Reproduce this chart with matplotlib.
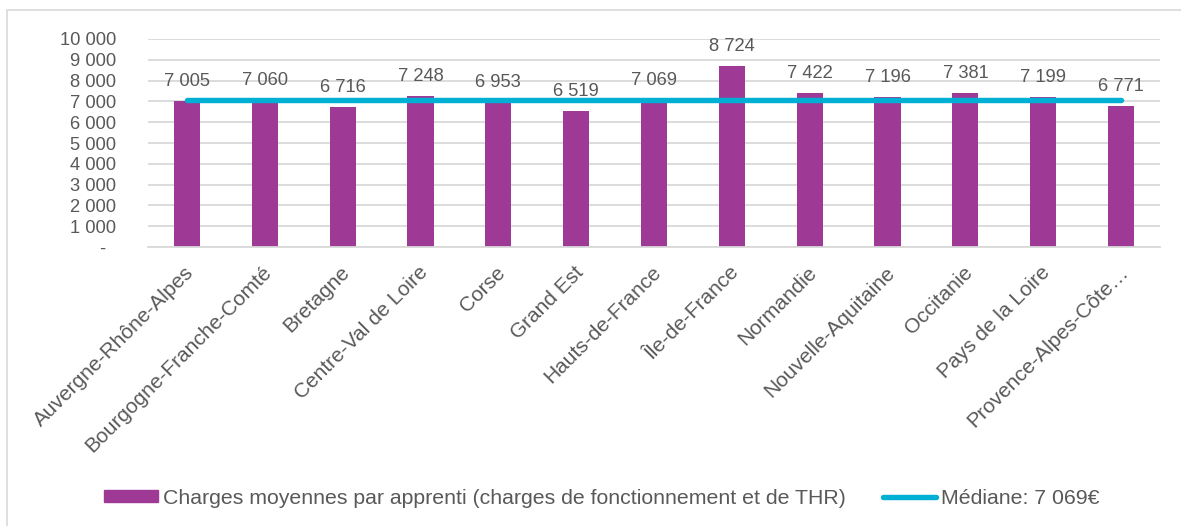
import matplotlib.pyplot as plt
import matplotlib.ticker as ticker
import matplotlib.transforms as mtransforms
from matplotlib.patches import Rectangle
from matplotlib.lines import Line2D

regions = ["Auvergne-Rhône-Alpes", "Bourgogne-Franche-Comté", "Bretagne",
           "Centre-Val de Loire", "Corse", "Grand Est", "Hauts-de-France",
           "Île-de-France", "Normandie", "Nouvelle-Aquitaine", "Occitanie",
           "Pays de la Loire", "Provence-Alpes-Côte…"]
charges = [7005, 7060, 6716, 7248, 6953, 6519, 7069, 8724, 7422, 7196, 7381, 7199, 6771]
median = 7069

BAR = "#9E3A95"
LINE = "#00B0D4"
TXT = "#595959"
GRID = "#D9D9D9"

plt.rcParams['font.family'] = ['Liberation Sans', 'DejaVu Sans']


def fmt(v, pos=None):
    if v == 0:
        return "-\u2007"
    return f"{int(v):,}".replace(",", " ")


fig = plt.figure(figsize=(11.81, 5.26), dpi=100)
ax = fig.add_axes([148 / 1181, 1 - 247 / 526, (1160 - 148) / 1181, (247 - 39) / 526])

# outer chart frame
fig.patches.append(Rectangle((7 / 1181, -0.01), 1.0, 1 - 10 / 526 + 0.01,
                             transform=fig.transFigure, fill=False,
                             edgecolor=GRID, linewidth=1.2))

x = list(range(len(regions)))
ax.bar(x, charges, width=0.335, color=BAR, zorder=2)
ax.plot(x, [median] * len(x), color=LINE, linewidth=3.9,
        solid_capstyle='round', zorder=3)

for xi, v in zip(x, charges):
    ax.annotate(fmt(v), (xi, v), xytext=(0, 10.8), textcoords='offset points',
                ha='center', va='baseline', fontsize=13.2, color=TXT)

ax.set_xlim(-0.5, len(regions) - 0.5)
ax.set_ylim(0, 10000)
ax.yaxis.set_major_locator(ticker.MultipleLocator(1000))
ax.yaxis.set_major_formatter(ticker.FuncFormatter(fmt))
ax.grid(axis='y', color=GRID, linewidth=1.3, zorder=0)
ax.set_axisbelow(True)
for s in ['top', 'right', 'left']:
    ax.spines[s].set_visible(False)
ax.spines['bottom'].set_color(GRID)
ax.spines['bottom'].set_linewidth(1.3)
ax.tick_params(axis='both', length=0, colors=TXT)
ax.tick_params(axis='y', pad=23, labelsize=13.2)
ax.set_xticks(x)
ax.set_xticklabels(regions, rotation=45, ha='right', va='baseline',
                   rotation_mode='anchor', fontsize=15)
ax.tick_params(axis='x', pad=19)
shift = mtransforms.ScaledTranslation(8 / 100, 0, fig.dpi_scale_trans)
for lab in ax.get_xticklabels():
    lab.set_transform(lab.get_transform() + shift)

handles = [Rectangle((0, 0), 1, 1, color=BAR),
           Line2D([0], [0], color=LINE, linewidth=3.9, solid_capstyle='round')]
labels = ["Charges moyennes par apprenti (charges de fonctionnement et de THR)",
          "Médiane: 7 069€"]
leg = fig.legend(handles, labels, loc='center', bbox_to_anchor=(602 / 1181, 1 - 498 / 526),
                 ncol=2, frameon=False, fontsize=15.3, handlelength=2.5,
                 handletextpad=0.24, columnspacing=1.75, handleheight=0.55,
                 borderpad=0, borderaxespad=0)
for t in leg.get_texts():
    t.set_color(TXT)

fig.savefig("out.png", dpi=100)
